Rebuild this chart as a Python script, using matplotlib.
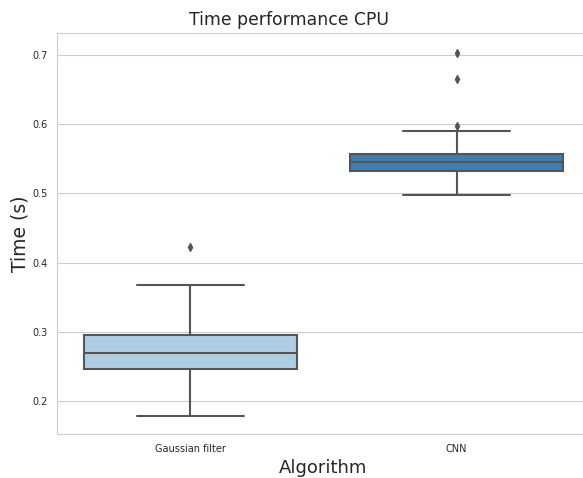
import matplotlib
matplotlib.use("Agg")
import matplotlib.pyplot as plt
import seaborn as sns

sns.set_style("whitegrid")
plt.rcParams['font.family'] = ['DejaVu Sans']

# summary statistics per algorithm (seconds)
algorithms = ["Gaussian filter", "CNN"]
medians = [0.2697, 0.5453]
q1 = [0.2466, 0.5324]
q3 = [0.2948, 0.5574]
whisker_low = [0.1784, 0.4983]
whisker_high = [0.3674, 0.5896]
outliers = [[0.422], [0.5973, 0.6657, 0.7036]]

box_colors = ["#afcde2", "#3f7eb3"]
line_gray = "#555555"

stats = []
for i, name in enumerate(algorithms):
    stats.append(dict(label=name, med=medians[i], q1=q1[i], q3=q3[i],
                      whislo=whisker_low[i], whishi=whisker_high[i],
                      fliers=outliers[i]))

fig = plt.figure(figsize=(5.83, 4.78), dpi=100)
ax = fig.add_axes([0.0978, 0.092, 0.914, 0.839])

bp = ax.bxp(stats, positions=range(len(algorithms)), widths=0.8,
            patch_artist=True, showfliers=True,
            boxprops=dict(edgecolor=line_gray, linewidth=1.5),
            medianprops=dict(color=line_gray, linewidth=1.5),
            whiskerprops=dict(color=line_gray, linewidth=1.5),
            capprops=dict(color=line_gray, linewidth=1.5),
            flierprops=dict(marker="d", markerfacecolor=line_gray,
                            markeredgecolor=line_gray, markersize=4))
for patch, c in zip(bp["boxes"], box_colors):
    patch.set_facecolor(c)
# caps at half the box width
for cap in bp["caps"]:
    x0, x1 = cap.get_xdata()
    mid = (x0 + x1) / 2
    cap.set_xdata([mid - 0.2, mid + 0.2])

ax.set_xlim(-0.5, 1.5)
ax.set_ylim(0.152, 0.732)
ax.set_yticks([0.2, 0.3, 0.4, 0.5, 0.6, 0.7])
ax.xaxis.grid(False)
ax.tick_params(axis="both", labelsize=7, colors="#262626")
ax.set_title("Time performance CPU", fontsize=12.4, color="#262626",
             x=0.435)
ax.set_xlabel("Algorithm", fontsize=13, color="#262626")
ax.set_ylabel("Time (s)", fontsize=13.5, color="#262626", labelpad=1.5)

fig.savefig("out.png", dpi=100)
